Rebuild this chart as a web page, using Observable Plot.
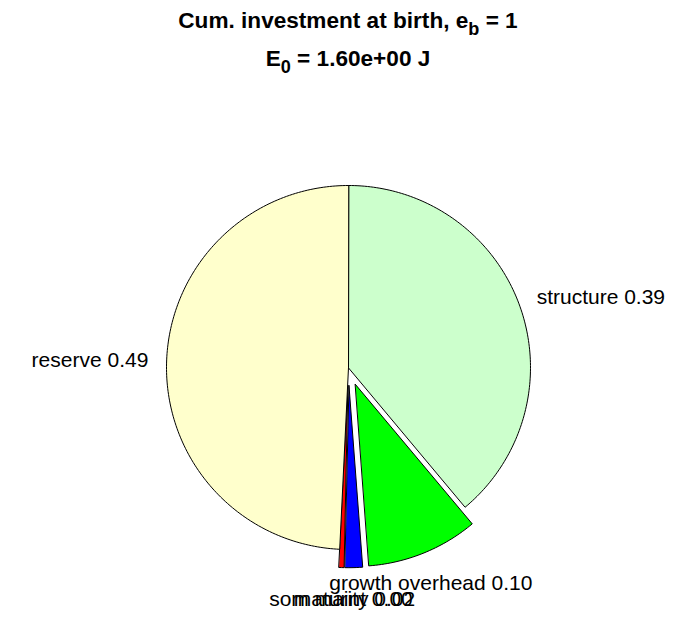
<!DOCTYPE html>
<html><head><meta charset="utf-8">
<script src="https://cdn.jsdelivr.net/npm/d3@7"></script>
<script src="https://cdn.jsdelivr.net/npm/@observablehq/plot@0.6"></script>
<style>
html,body{margin:0;padding:0;background:#fff;}
body{font-family:"Liberation Sans",Arial,Helvetica,sans-serif;width:696px;height:618px;overflow:hidden;}
#title{position:relative;height:80px;width:696px;font-weight:bold;font-size:22.6px;color:#000;}
#title .ln{position:absolute;left:0;width:696px;text-align:center;line-height:22px;white-space:nowrap;}
#title sub{font-size:0.8em;vertical-align:-0.4em;line-height:0;}
#chart{height:538px;}
</style></head><body>
<div id="title">
  <div class="ln" style="top:10px">Cum. investment at birth, e<sub>b</sub> = 1</div>
  <div class="ln" style="top:48px">E<sub>0</sub> = 1.60e+00 J</div>
</div>
<div id="chart"></div>
<script>
// ---- data ----
const names = ["structure", "growth overhead", "maturity", "som maint", "reserve"];
const fractions = [0.389, 0.099, 0.0153, 0.0044, 0.4923];
const exploded = [0, 1, 1, 1, 0];
const colors = ["#ccffcc", "#00ff00", "#0000ff", "#ff0000", "#ffffcc"];

// ---- layout ----
const W = 696, H = 538, R = 182, CX = 348, CY = 287;
const EXPLODE = 0.1, LABEL_R = 1.1;

// build slice polygons (unit radius, angle clockwise from top)
const total = d3.sum(fractions);
const polys = [];
const labels = [];
let a0 = 0;
names.forEach((name, i) => {
  const span = fractions[i] / total * 2 * Math.PI;
  const a1 = a0 + span;
  const mid = (a0 + a1) / 2;
  const off = exploded[i] ? EXPLODE : 0;
  const ox = off * Math.sin(mid), oy = off * Math.cos(mid);
  polys.push({name, x: ox, y: oy});
  const n = Math.max(2, Math.ceil(span / (Math.PI / 180)));
  for (let k = 0; k <= n; ++k) {
    const a = a0 + span * k / n;
    polys.push({name, x: ox + Math.sin(a), y: oy + Math.cos(a)});
  }
  const lr = LABEL_R + off;
  const s = Math.sin(mid), c = Math.cos(mid);
  const anchor = Math.abs(s) < 0.5 ? "middle" : (s > 0 ? "start" : "end");
  const vanchor = anchor === "middle" ? (c < 0 ? "top" : "bottom") : "middle";
  labels.push({name, x: lr * s, y: lr * c, anchor, vanchor,
    text: `${name} ${fractions[i].toFixed(2)}`});
  a0 = a1;
});

const xDomain = [-CX / R, (W - CX) / R];
const yDomain = [-(H - CY) / R, CY / R];
const font = "'Liberation Sans', Arial, Helvetica, sans-serif";
const textMarks = [];
for (const anchor of ["start", "end", "middle"]) {
  for (const vanchor of ["middle", "top", "bottom"]) {
    const sub = labels.filter(d => d.anchor === anchor && d.vanchor === vanchor);
    if (!sub.length) continue;
    textMarks.push(Plot.text(sub, {x: "x", y: "y", text: "text", textAnchor: anchor,
      lineAnchor: vanchor, dy: vanchor === "top" ? 5 : vanchor === "bottom" ? -5 : -2,
      fontSize: 21, fill: "black", fontFamily: font}));
  }
}

const chart = Plot.plot({
  width: W, height: H, margin: 0,
  style: {fontFamily: font, background: "white"},
  x: {domain: xDomain, axis: null},
  y: {domain: yDomain, axis: null},
  color: {type: "ordinal", domain: names, range: colors},
  marks: [
    Plot.line(polys, {x: "x", y: "y", z: "name", fill: "name", stroke: "black",
      strokeWidth: 1, strokeLinejoin: "miter", curve: "linear-closed"}),
    ...textMarks
  ]
});
document.getElementById("chart").appendChild(chart);
</script>
</body></html>
